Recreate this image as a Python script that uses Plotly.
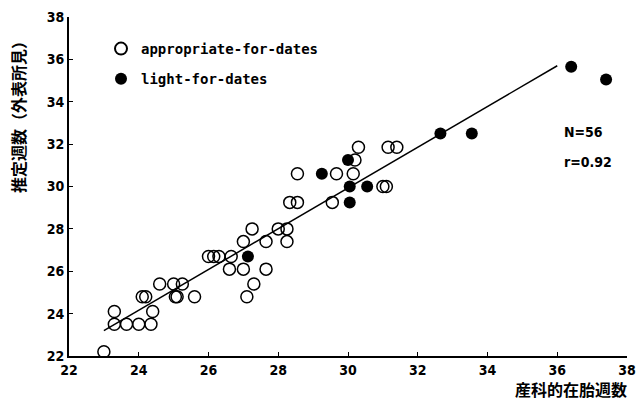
import plotly.graph_objects as go

# appropriate-for-dates (open circles)
afd_x = [23.0, 23.3, 23.3, 23.65, 24.0, 24.35, 24.4, 24.1, 24.2, 24.6, 25.0, 25.25,
         25.05, 25.1, 25.6,
         26.0, 26.15, 26.3, 26.65, 26.6, 27.0, 27.65, 27.0, 27.65, 28.25,
         27.25, 28.0, 28.25, 27.3, 27.1,
         28.33, 28.55, 29.55, 28.55, 29.67, 30.15, 31.0, 31.1, 30.2,
         30.3, 31.15, 31.4]
afd_y = [22.2, 24.1, 23.5, 23.5, 23.5, 23.5, 24.1, 24.8, 24.8, 25.4, 25.4, 25.4,
         24.8, 24.8, 24.8,
         26.7, 26.7, 26.7, 26.7, 26.1, 26.1, 26.1, 27.4, 27.4, 27.4,
         28.0, 28.0, 28.0, 25.4, 24.8,
         29.25, 29.25, 29.25, 30.6, 30.6, 30.6, 30.0, 30.0, 31.25,
         31.85, 31.85, 31.85]

# light-for-dates (filled circles)
lfd_x = [27.13, 30.05, 30.05, 30.55, 29.25, 30.0, 32.65, 33.55, 36.4, 37.4]
lfd_y = [26.7, 29.25, 30.0, 30.0, 30.6, 31.25, 32.5, 32.5, 35.65, 35.05]

# regression line end points
fit_x = [23.0, 36.0]
fit_y = [23.2, 35.7]

tick_vals = [22, 24, 26, 28, 30, 32, 34, 36, 38]
tick_text = [str(v) for v in tick_vals]

num_font = dict(family="Liberation Sans Narrow, DejaVu Sans Condensed, Arial Narrow, sans-serif",
                size=14, color="black", weight="bold")
cjk = "Noto Sans CJK JP, Noto Sans CJK SC, sans-serif"

L, R, T, B = 69, 10, 17, 56
PW, PH = 637 - L - R, 412 - T - B


def px(xp):
    return (xp - L) / PW


def py(yp):
    return (412 - B - yp) / PH


fig = go.Figure()
fig.add_trace(go.Scatter(x=fit_x, y=fit_y, mode="lines",
                         line=dict(color="black", width=1.5), showlegend=False,
                         hoverinfo="skip"))
fig.add_trace(go.Scatter(x=afd_x, y=afd_y, mode="markers", name="appropriate-for-dates",
                         legendgroup="a",
                         marker=dict(symbol="circle-open", size=12, color="black",
                                     line=dict(width=1.5, color="black"))))
fig.add_trace(go.Scatter(x=lfd_x, y=lfd_y, mode="markers", name="light-for-dates",
                         legendgroup="b",
                         marker=dict(symbol="circle", size=12, color="black",
                                     line=dict(width=0))))

fig.update_layout(
    width=637, height=412,
    margin=dict(l=L, r=R, t=T, b=B, autoexpand=False),
    paper_bgcolor="white", plot_bgcolor="white",
    showlegend=True,
    legend=dict(x=px(101), y=py(33), xanchor="left", yanchor="top",
                bgcolor="rgba(0,0,0,0)",
                font=dict(family="DejaVu Sans Mono, monospace", size=14, color="black",
                          weight="bold"),
                traceorder="grouped", tracegroupgap=9, itemsizing="constant",
                itemwidth=30),
    xaxis=dict(range=[22, 38], tickvals=tick_vals, ticktext=tick_text,
               showgrid=False, zeroline=False, showline=True, linecolor="black",
               linewidth=2, ticks="inside", ticklen=4, tickcolor="black",
               tickfont=num_font, fixedrange=True, automargin=False),
    yaxis=dict(range=[22, 38], tickvals=tick_vals, ticktext=tick_text,
               showgrid=False, zeroline=False, showline=True, linecolor="black",
               linewidth=2, ticks="inside", ticklen=4, tickcolor="black",
               tickfont=num_font, fixedrange=True, automargin=False),
    annotations=[
        dict(text="N=56", xref="paper", yref="paper",
             x=px(562), y=py(132), xanchor="left", yanchor="middle",
             showarrow=False, font=num_font),
        dict(text="r=0.92", xref="paper", yref="paper",
             x=px(562), y=py(162), xanchor="left", yanchor="middle",
             showarrow=False, font=num_font),
        dict(text="産科的在胎週数", xref="paper", yref="paper",
             x=px(629), y=py(389), xanchor="right", yanchor="middle",
             showarrow=False, font=dict(family=cjk, size=16, color="black", weight="bold")),
        dict(text="推定週数（外表所見）", xref="paper", yref="paper",
             x=px(18), y=py(113), xanchor="center", yanchor="middle",
             textangle=-90, showarrow=False,
             font=dict(family=cjk, size=16, color="black", weight="bold")),
    ],
)

fig.write_html("out.html", config={"displayModeBar": False},
               post_script="document.body.style.margin='0px';")
